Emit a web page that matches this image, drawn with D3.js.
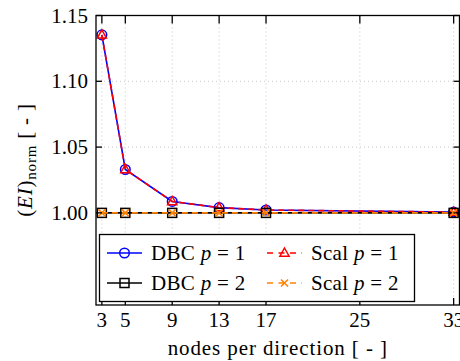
<!DOCTYPE html>
<html>
<head>
<meta charset="utf-8">
<script src="https://cdn.jsdelivr.net/npm/d3@7"></script>
<style>
  body { margin: 0; background: #fff; }
  text { font-family: "Liberation Serif", "DejaVu Serif", serif; }
</style>
</head>
<body>
<script>
// data
const nodes = [3, 5, 9, 13, 17, 33];
const dbcP1 = [1.1353, 1.0330, 1.0087, 1.0040, 1.0022, 1.0006];
const scalP1 = [1.1353, 1.0330, 1.0087, 1.0040, 1.0022, 1.0006];
const dbcP2 = [1.0000, 1.0000, 1.0000, 1.0000, 1.0000, 1.0000];
const scalP2 = [1.0000, 1.0000, 1.0000, 1.0000, 1.0000, 1.0000];
const xTicks = [3, 5, 9, 13, 17, 25, 33];
const yTicks = [1.00, 1.05, 1.10, 1.15];

const width = 460, height = 361;
const margin = {left: 96, right: 0.5, top: 15.5, bottom: 56};

const svg = d3.select("body").append("svg")
    .attr("width", width)
    .attr("height", height);

const x = d3.scaleLinear()
    .domain([2.5, 33.5])
    .range([margin.left, width - margin.right]);
const y = d3.scaleLinear()
    .domain([0.930, 1.15])
    .range([height - margin.bottom, margin.top]);

const x0 = x.range()[0], x1 = x.range()[1];
const y0 = y.range()[0], y1 = y.range()[1];

// dotted grid
const grid = svg.append("g")
    .attr("stroke", "#c8c8c8")
    .attr("stroke-width", 1)
    .attr("stroke-dasharray", "1,3");
grid.selectAll(".gx").data(xTicks).enter().append("line")
    .attr("x1", d => x(d)).attr("x2", d => x(d))
    .attr("y1", y1).attr("y2", y0);
grid.selectAll(".gy").data(yTicks).enter().append("line")
    .attr("x1", x0).attr("x2", x1)
    .attr("y1", d => y(d)).attr("y2", d => y(d));

// series
const series = [
    {name: "DBC", p: 1, vals: dbcP1, color: "#0000ff", dash: null, marker: "circle"},
    {name: "Scal", p: 1, vals: scalP1, color: "#ff0000", dash: "6,4", marker: "triangle"},
    {name: "DBC", p: 2, vals: dbcP2, color: "#000000", dash: null, marker: "square"},
    {name: "Scal", p: 2, vals: scalP2, color: "#ff8000", dash: "6,4", marker: "cross"}
];

const line = d3.line()
    .x(d => x(d[0]))
    .y(d => y(d[1]));

function drawMarker(g, type, color, cx, cy) {
    if (type == "circle") {
        g.append("circle").attr("cx", cx).attr("cy", cy).attr("r", 4.8)
            .attr("fill", "none").attr("stroke", color).attr("stroke-width", 1.5);
    } else if (type == "triangle") {
        g.append("path")
            .attr("d", `M${cx},${cy - 5} L${cx + 4.6},${cy + 3.2} L${cx - 4.6},${cy + 3.2} Z`)
            .attr("fill", "none").attr("stroke", color).attr("stroke-width", 1.5);
    } else if (type == "square") {
        g.append("rect").attr("x", cx - 4.5).attr("y", cy - 4.5)
            .attr("width", 9).attr("height", 9)
            .attr("fill", "none").attr("stroke", color).attr("stroke-width", 1.5);
    } else {
        g.append("path")
            .attr("d", `M${cx - 3.5},${cy - 3.5} L${cx + 3.5},${cy + 3.5} M${cx - 3.5},${cy + 3.5} L${cx + 3.5},${cy - 3.5}`)
            .attr("stroke", color).attr("stroke-width", 1.5);
    }
}

series.forEach(s => {
    const pts = nodes.map((n, i) => [n, s.vals[i]]);
    const g = svg.append("g");
    g.append("path")
        .attr("d", line(pts))
        .attr("fill", "none")
        .attr("stroke", s.color)
        .attr("stroke-width", 1.6)
        .attr("stroke-dasharray", s.dash);
    pts.forEach(p => drawMarker(g, s.marker, s.color, x(p[0]), y(p[1])));
});

// frame + inward ticks
const axes = svg.append("g").attr("stroke", "#000");
axes.append("rect")
    .attr("x", x0).attr("y", y1)
    .attr("width", x1 - x0).attr("height", y0 - y1)
    .attr("fill", "none").attr("stroke-width", 1.3);
xTicks.forEach(t => {
    axes.append("line").attr("x1", x(t)).attr("x2", x(t)).attr("y1", y0).attr("y2", y0 - 7).attr("stroke-width", 1.3);
    axes.append("line").attr("x1", x(t)).attr("x2", x(t)).attr("y1", y1).attr("y2", y1 + 8).attr("stroke-width", 1.3);
});
yTicks.forEach(t => {
    axes.append("line").attr("x1", x0).attr("x2", x0 + 6).attr("y1", y(t)).attr("y2", y(t)).attr("stroke-width", 1.3);
    axes.append("line").attr("x1", x1).attr("x2", x1 - 6).attr("y1", y(t)).attr("y2", y(t)).attr("stroke-width", 1.3);
});

// tick labels
svg.selectAll(".xl").data(xTicks).enter().append("text")
    .attr("x", d => x(d)).attr("y", y0 + 22)
    .attr("text-anchor", "middle")
    .attr("font-size", 21)
    .text(d => d);
svg.selectAll(".yl").data(yTicks).enter().append("text")
    .attr("x", x0 - 8).attr("y", d => y(d) + 7)
    .attr("text-anchor", "end")
    .attr("font-size", 21)
    .text(d => d.toFixed(2));

// axis titles
svg.append("text")
    .attr("x", (x0 + x1) / 2).attr("y", 355)
    .attr("text-anchor", "middle")
    .attr("font-size", 21)
    .attr("letter-spacing", 0.9)
    .text("nodes per direction [ - ]");

const yt = svg.append("text")
    .attr("transform", "translate(32,160) rotate(-90)")
    .attr("text-anchor", "middle")
    .attr("font-size", 21)
    .attr("letter-spacing", 0.8);
yt.append("tspan").text("(");
yt.append("tspan").attr("font-style", "italic").text("EI");
yt.append("tspan").text(")");
yt.append("tspan").attr("font-size", 15).attr("dy", 4).text("norm");
yt.append("tspan").attr("dy", -4).text(" [ - ]");

// legend
const lg = svg.append("g");
lg.append("rect")
    .attr("x", 99.5).attr("y", 234.5)
    .attr("width", 315).attr("height", 67)
    .attr("fill", "#fff").attr("stroke", "#000").attr("stroke-width", 1.3);

const legendPos = [
    {lx: 107, ly: 253}, {lx: 267, ly: 253},
    {lx: 107, ly: 283}, {lx: 267, ly: 283}
];
series.forEach((s, i) => {
    const p = legendPos[i];
    lg.append("line")
        .attr("x1", p.lx).attr("x2", p.lx + 35)
        .attr("y1", p.ly).attr("y2", p.ly)
        .attr("stroke", s.color).attr("stroke-width", 1.6)
        .attr("stroke-dasharray", s.dash ? "6,5.5" : null);
    drawMarker(lg, s.marker, s.color, p.lx + 17.5, p.ly);
    const t = lg.append("text")
        .attr("x", p.lx + 44).attr("y", p.ly + 7)
        .attr("font-size", 21)
        .attr("letter-spacing", 0.3);
    t.append("tspan").text(s.name + " ");
    t.append("tspan").attr("font-style", "italic").text("p");
    t.append("tspan").text(" = " + s.p);
});
</script>
</body>
</html>
